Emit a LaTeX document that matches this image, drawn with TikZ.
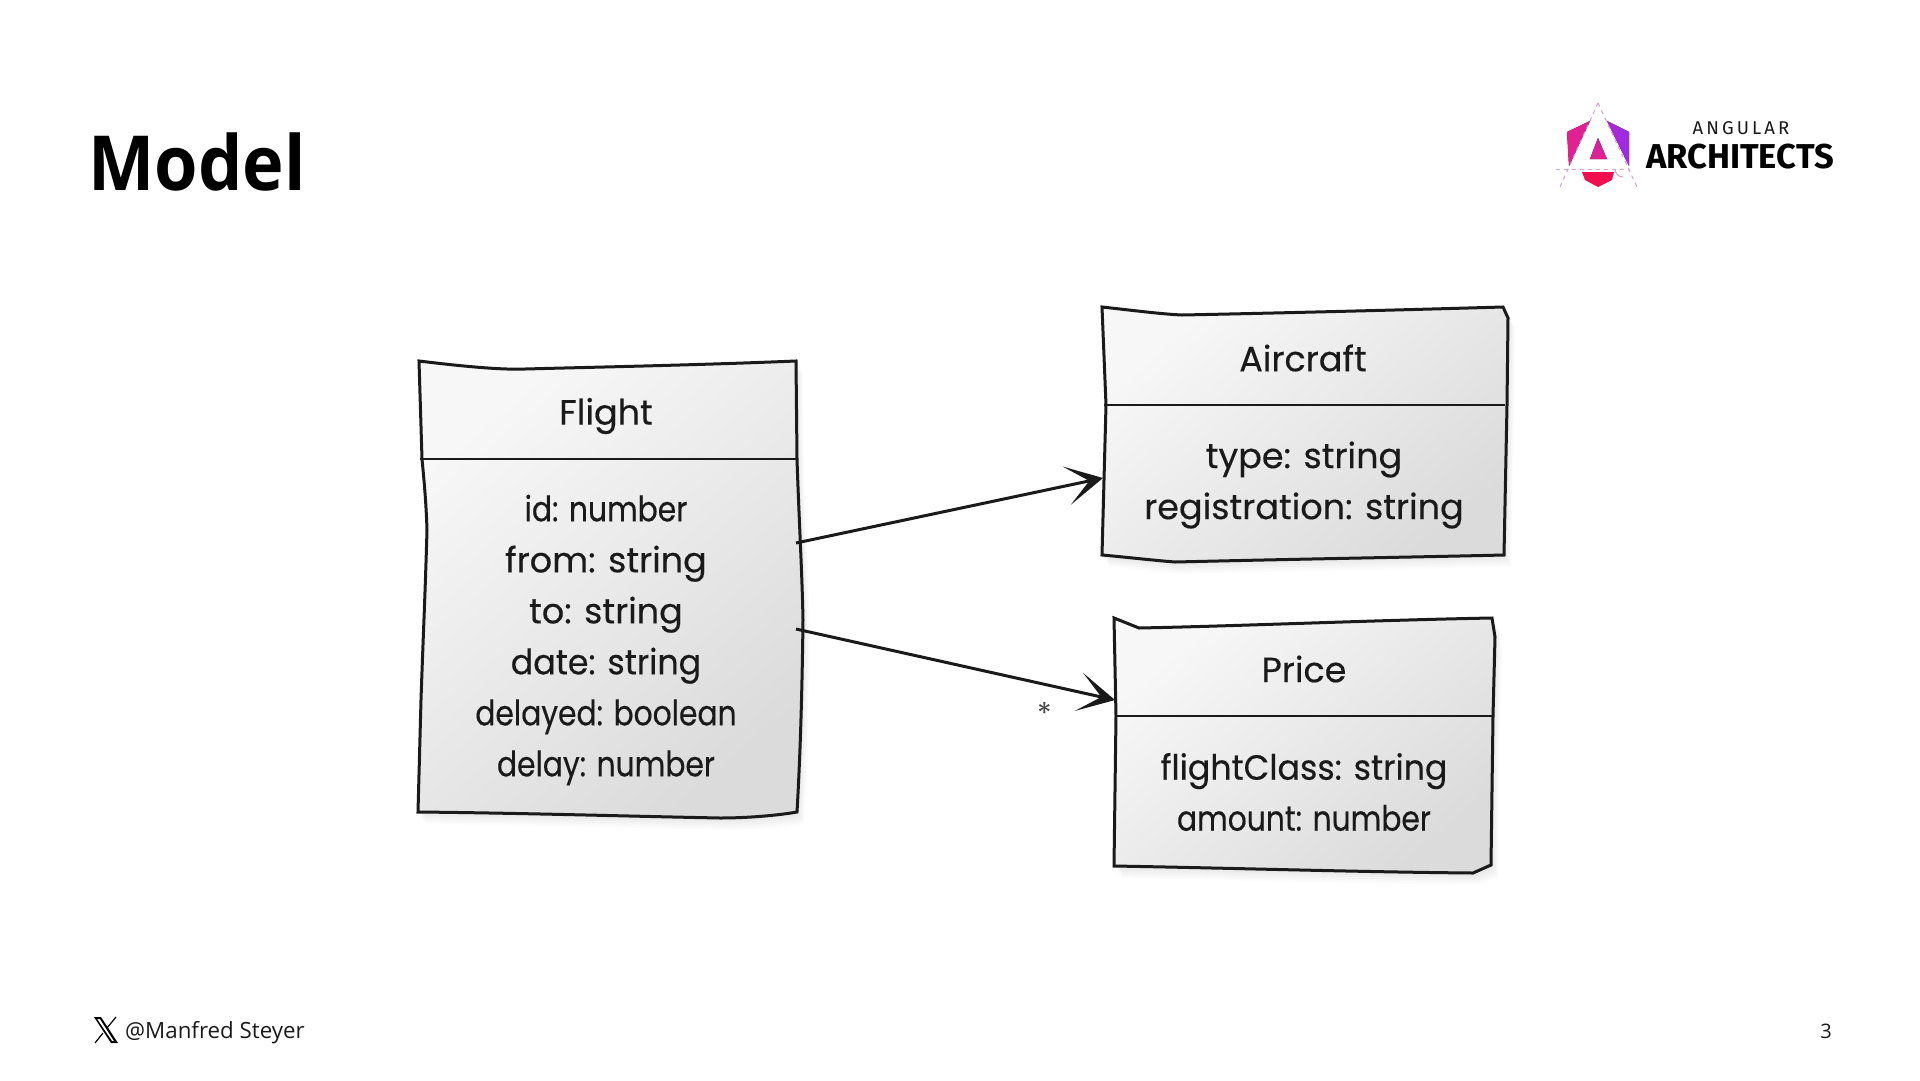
\documentclass[tikz,border=0pt]{standalone}
\usepackage{fontspec}
\usetikzlibrary{arrows.meta,calc}
\setmainfont{Open Sans}
\newfontfamily\titlefont[FakeStretch=0.925]{Open Sans}
\newfontfamily\hand[FakeBold=0.35]{Poppins}
\newfontfamily\handn[FakeBold=0.35,FakeStretch=0.85]{Poppins}
\newfontfamily\handm[FakeBold=0.35,FakeStretch=0.95]{Poppins}
\newfontfamily\starfont{Poppins}
\newfontfamily\logofont{Fira Sans}
\definecolor{boxlight}{HTML}{F7F7F7}
\definecolor{boxdark}{HTML}{DBDBDB}
\definecolor{inkc}{HTML}{1A1A1A}
\definecolor{logopink}{HTML}{E4208F}
\definecolor{logopurple}{HTML}{9A2BE8}
\definecolor{logored}{HTML}{F0104F}
\definecolor{logodash}{HTML}{D8A0CC}
\tikzset{
  boxink/.style={draw=inkc,line width=3pt,line join=miter},
  divider/.style={draw=inkc,line width=2.8pt},
  boxtext/.style={font=\hand\fontsize{35}{51}\selectfont,text=inkc,align=center,inner sep=0pt},
  assoc/.style={draw=inkc,line width=3pt,-{Stealth[length=37pt,width=39pt,inset=23pt]}},
  logodashed/.style={draw=logodash,line width=1pt,dash pattern=on 4pt off 4pt},
}
% a hand-drawn box: shadow, gradient fill and outline
\newcommand{\sketchbox}[1]{%
  \foreach \k in {1,...,8}{\fill[black,opacity=0.012,xshift=\k*0.9pt,yshift=-\k*1.5pt] #1;}
  \shade[shading=axis,top color=boxlight,bottom color=boxdark,shading angle=40] #1;
  \draw[boxink] #1;
}
\begin{document}
\begin{tikzpicture}[x=1pt,y=-1pt]
\useasboundingbox (0,0) rectangle (1920,1080);
\fill[white] (0,0) rectangle (1920,1080);

\node[anchor=base west,inner sep=0pt,font=\titlefont\bfseries\fontsize{76}{80}\selectfont] (title) at (88,190) {Model};

% logo
\fill[left color=logopink,right color=logopink!90!logopurple] (1567,132) -- (1590,121) -- (1569,166) -- cycle;
\fill[left color=logopurple!70!logopink,right color=logopurple] (1607,121) -- (1629,132) -- (1629,166) -- cycle;
\fill[top color=logopink!70!logopurple,bottom color=logopink] (1598,138) -- (1607,159) -- (1590,159) -- cycle;
\fill[logored] (1582,172) -- (1614,172) -- (1612,180) -- (1598,187) -- (1585,180) -- cycle;
\draw[logodashed] (1598,103) -- (1560,187);
\draw[logodashed] (1598,103) -- (1637,187);
\draw[logodashed] (1556,169) -- (1630,169);
\draw[logodash,line width=1pt] (1615,169) arc[start angle=180,end angle=90,radius=8] ;
\node[anchor=base,inner sep=0pt,font=\logofont\fontsize{18.5}{20}\selectfont,text=inkc] (angular) at (1741,134) {A\,N\,G\,U\,L\,A\,R};
\node[anchor=base,inner sep=0pt,font=\logofont\bfseries\fontsize{34.5}{36}\selectfont,text=black] (architects) at (1740,168) {ARCHITECTS};

% Flight
\sketchbox{(419,361) .. controls (460,366) and (500,370) .. (525,369) .. controls (600,367) and (700,365) .. (796,361) -- (797,459) .. controls (799,520) and (802,570) .. (803,620) .. controls (802,700) and (800,760) .. (797,812) .. controls (780,815) and (750,818) .. (720,818) .. controls (620,816) and (520,813) .. (418,812) -- (421,700) .. controls (423,640) and (425,600) .. (427,530) .. controls (426,500) and (424,480) .. (422,459) -- cycle}
\draw[divider] (420,459) -- (796,459);
\node[boxtext] (flightname) at (606,416) {Flight};
\node[boxtext] (flightbody) at (606,640) {{\handn id: number}\\from: string\\to: string\\{\handm date: string}\\{\handn delayed: boolean}\\{\handn delay: number}};

% Aircraft
\sketchbox{(1102,307) .. controls (1130,310) and (1160,314) .. (1182,315) .. controls (1280,313) and (1400,310) .. (1503,307) -- (1508,318) -- (1507,405) -- (1504,555) .. controls (1420,557) and (1300,559) .. (1175,562) .. controls (1150,560) and (1125,557) .. (1102,555) -- (1106,405) -- cycle}
\draw[divider] (1104,405) -- (1505,405);
\node[boxtext] (aircraftname) at (1303,358) {Aircraft};
\node[boxtext] (aircraftbody) at (1304,485) {type: string\\registration: string};

% Price
\sketchbox{(1114,618) -- (1139,628) .. controls (1240,626) and (1380,620) .. (1492,618) -- (1495,637) -- (1493,716) -- (1491,865) -- (1473,873) .. controls (1360,872) and (1230,868) .. (1114,866) -- (1116,716) -- cycle}
\draw[divider] (1115,716) -- (1492,716);
\node[boxtext] (pricename) at (1304,669) {Price};
\node[boxtext] (pricebody) at (1304,792) {{\handm flightClass: string}\\{\handn amount: number}};

% connectors
\coordinate (flightout1) at (796,543);
\coordinate (aircraftin) at (1103,478);
\coordinate (flightout2) at (796,629);
\coordinate (pricein) at (1115,700);
\draw[assoc] (flightout1) -- (aircraftin);
\draw[assoc] (flightout2) -- (pricein);
\node[font=\starfont\fontsize{30}{30}\selectfont,text=inkc!80,inner sep=0pt] (star) at (1045,713) {*};

% footer
\fill[black,even odd rule] (94,1017) -- (101,1017) -- (118,1043) -- (111,1043) -- cycle (97,1019) -- (100,1019) -- (114,1041) -- (112,1041) -- cycle;
\draw[black,line width=1.2pt] (116,1017) -- (107,1028) (103,1033) -- (95,1043);
\node[anchor=base west,inner sep=0pt,font=\fontsize{22.3}{26}\selectfont,text=inkc] (handle) at (125,1038) {@Manfred Steyer};
\node[anchor=base,inner sep=0pt,font=\fontsize{20}{24}\selectfont,text=inkc] (pageno) at (1826,1038) {3};
\end{tikzpicture}
\end{document}
